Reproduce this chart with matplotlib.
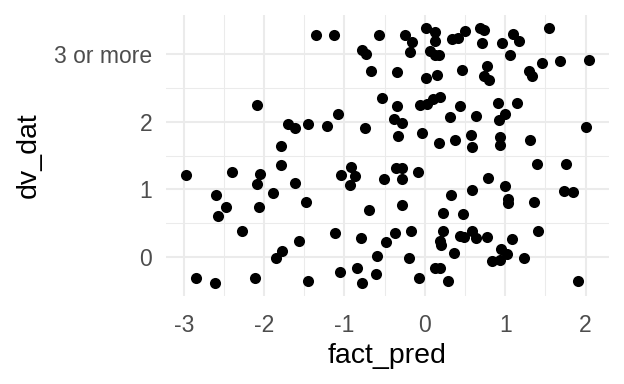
import numpy as np
import matplotlib
matplotlib.use("Agg")
import matplotlib.pyplot as plt

# data (jittered scatter)
fact_pred = [
    -1.36, -1.13, -0.57, -0.78, -0.73, -0.67, -0.53, -2.09, -1.08, -1.70,
    -1.61, -1.45, -1.22, -0.74, -1.79, -1.79, -2.97, -2.40, -2.05, -2.09,
    -1.61, -1.89, -2.60, -2.47, -2.57, -2.06, -1.48, -1.04, -0.92, -0.87,
    -0.93, -0.51, -0.70, -2.28, -1.57, -1.12, -0.80, -0.48, -1.78, -1.85,
    -0.60, -2.85, -2.61, -2.11, -1.45, -1.06, -0.84, -0.78, -0.61, -0.25,
    -0.16, -0.18, 0.02, 0.13, 0.12, 0.06, 0.12, 0.18, 0.34, 0.41,
    0.50, 0.69, 0.73, 0.71, 0.96, 1.10, 1.17, 1.06, 1.55, 1.46,
    1.68, 2.04, -0.35, 0.02, 0.15, 0.46, 0.77, 0.74, 0.80, 1.29,
    1.33, -0.35, -0.06, 0.03, 0.10, 0.19, 0.44, 0.91, 1.15, -0.39,
    -0.29, 0.31, 0.63, 0.92, 1.00, 2.01, -0.34, -0.03, 0.17, 0.38,
    0.57, 0.59, 0.93, 0.93, 1.31, 1.40, 1.75, -0.36, -0.28, -0.29,
    -0.08, 0.79, 1.00, 0.59, 0.32, 1.03, 1.03, 1.36, 1.73, 1.84,
    -0.29, 0.23, 0.47, -0.37, -0.17, 0.23, 0.19, 0.20, 0.44, 0.59,
    0.63, 0.77, 1.09, 1.41, 0.36, 0.95, 1.02, 0.84, 0.93, 1.23,
    -0.20, 0.12, 0.19, -0.07, 0.29, 1.91, 0.49,
]
dv_dat = [
    3.28, 3.29, 3.29, 3.06, 3.00, 2.75, 2.35, 2.25, 2.12, 1.97,
    1.91, 1.97, 1.94, 1.91, 1.64, 1.36, 1.21, 1.26, 1.22, 1.08,
    1.10, 0.94, 0.91, 0.74, 0.61, 0.74, 0.81, 1.21, 1.33, 1.19,
    1.06, 1.15, 0.70, 0.38, 0.24, 0.35, 0.28, 0.22, 0.09, -0.02,
    0.01, -0.31, -0.39, -0.31, -0.36, -0.23, -0.16, -0.39, -0.26, 3.29,
    3.18, 3.03, 3.39, 3.33, 3.19, 3.05, 2.99, 2.99, 3.22, 3.24,
    3.34, 3.38, 3.36, 3.16, 3.16, 3.30, 3.19, 2.98, 3.38, 2.87,
    2.90, 2.92, 2.74, 2.65, 2.69, 2.77, 2.83, 2.67, 2.62, 2.75,
    2.67, 2.23, 2.25, 2.26, 2.33, 2.36, 2.23, 2.28, 2.27, 2.04,
    1.98, 2.07, 2.08, 2.03, 2.11, 1.92, 1.79, 1.83, 1.68, 1.73,
    1.80, 1.63, 1.78, 1.66, 1.73, 1.37, 1.38, 1.31, 1.31, 1.15,
    1.25, 1.17, 1.05, 0.99, 0.92, 0.86, 0.80, 0.81, 0.98, 0.96,
    0.77, 0.65, 0.64, 0.36, 0.39, 0.38, 0.24, 0.18, 0.31, 0.39,
    0.28, 0.30, 0.26, 0.39, 0.06, 0.12, 0.04, -0.06, -0.04, -0.01,
    -0.02, -0.16, -0.17, -0.32, -0.36, -0.36, 0.30,
]
x_breaks = [-3, -2, -1, 0, 1, 2]
x_labels = ["-3", "-2", "-1", "0", "1", "2"]
y_breaks = [0, 1, 2, 3]
y_labels = ["0", "1", "2", "3 or more"]

plt.rcParams['font.family'] = ['Liberation Sans', 'DejaVu Sans']

fig = plt.figure(figsize=(6.24, 3.84), dpi=100)
W, H = 624, 384
ax = fig.add_axes([166 / W, (H - 296) / H, (609 - 166) / W, (296 - 15) / H])

ax.scatter(fact_pred, dv_dat, s=64, color="black", linewidths=0, zorder=3)

xa = np.array(fact_pred); ya = np.array(dv_dat)
xr = xa.max() - xa.min(); yr = ya.max() - ya.min()
ax.set_xlim(xa.min() - 0.05 * xr, xa.max() + 0.05 * xr)
ax.set_ylim(ya.min() - 0.05 * yr, ya.max() + 0.05 * yr)

ax.set_xticks(x_breaks)
ax.set_xticklabels(x_labels)
ax.set_yticks(y_breaks)
ax.set_yticklabels(y_labels)
ax.set_xticks([-2.5, -1.5, -0.5, 0.5, 1.5], minor=True)
ax.set_yticks([0.5, 1.5, 2.5], minor=True)

ax.grid(True, which="major", color="#EBEBEB", linewidth=1.5, zorder=0)
ax.grid(True, which="minor", color="#EBEBEB", linewidth=0.75, zorder=0)
ax.set_axisbelow(True)
for sp in ax.spines.values():
    sp.set_visible(False)

ax.tick_params(axis="both", which="both", length=0)
ax.tick_params(axis="x", which="major", pad=13, labelsize=16.5, labelcolor="#4D4D4D")
ax.tick_params(axis="y", which="major", pad=10, labelsize=16.5, labelcolor="#4D4D4D")

ax.set_xlabel("fact_pred", fontsize=20.5, color="black", labelpad=4)
ax.set_ylabel("dv_dat", fontsize=20.5, color="black", labelpad=9)

fig.savefig("out.png", dpi=100, facecolor="white")
